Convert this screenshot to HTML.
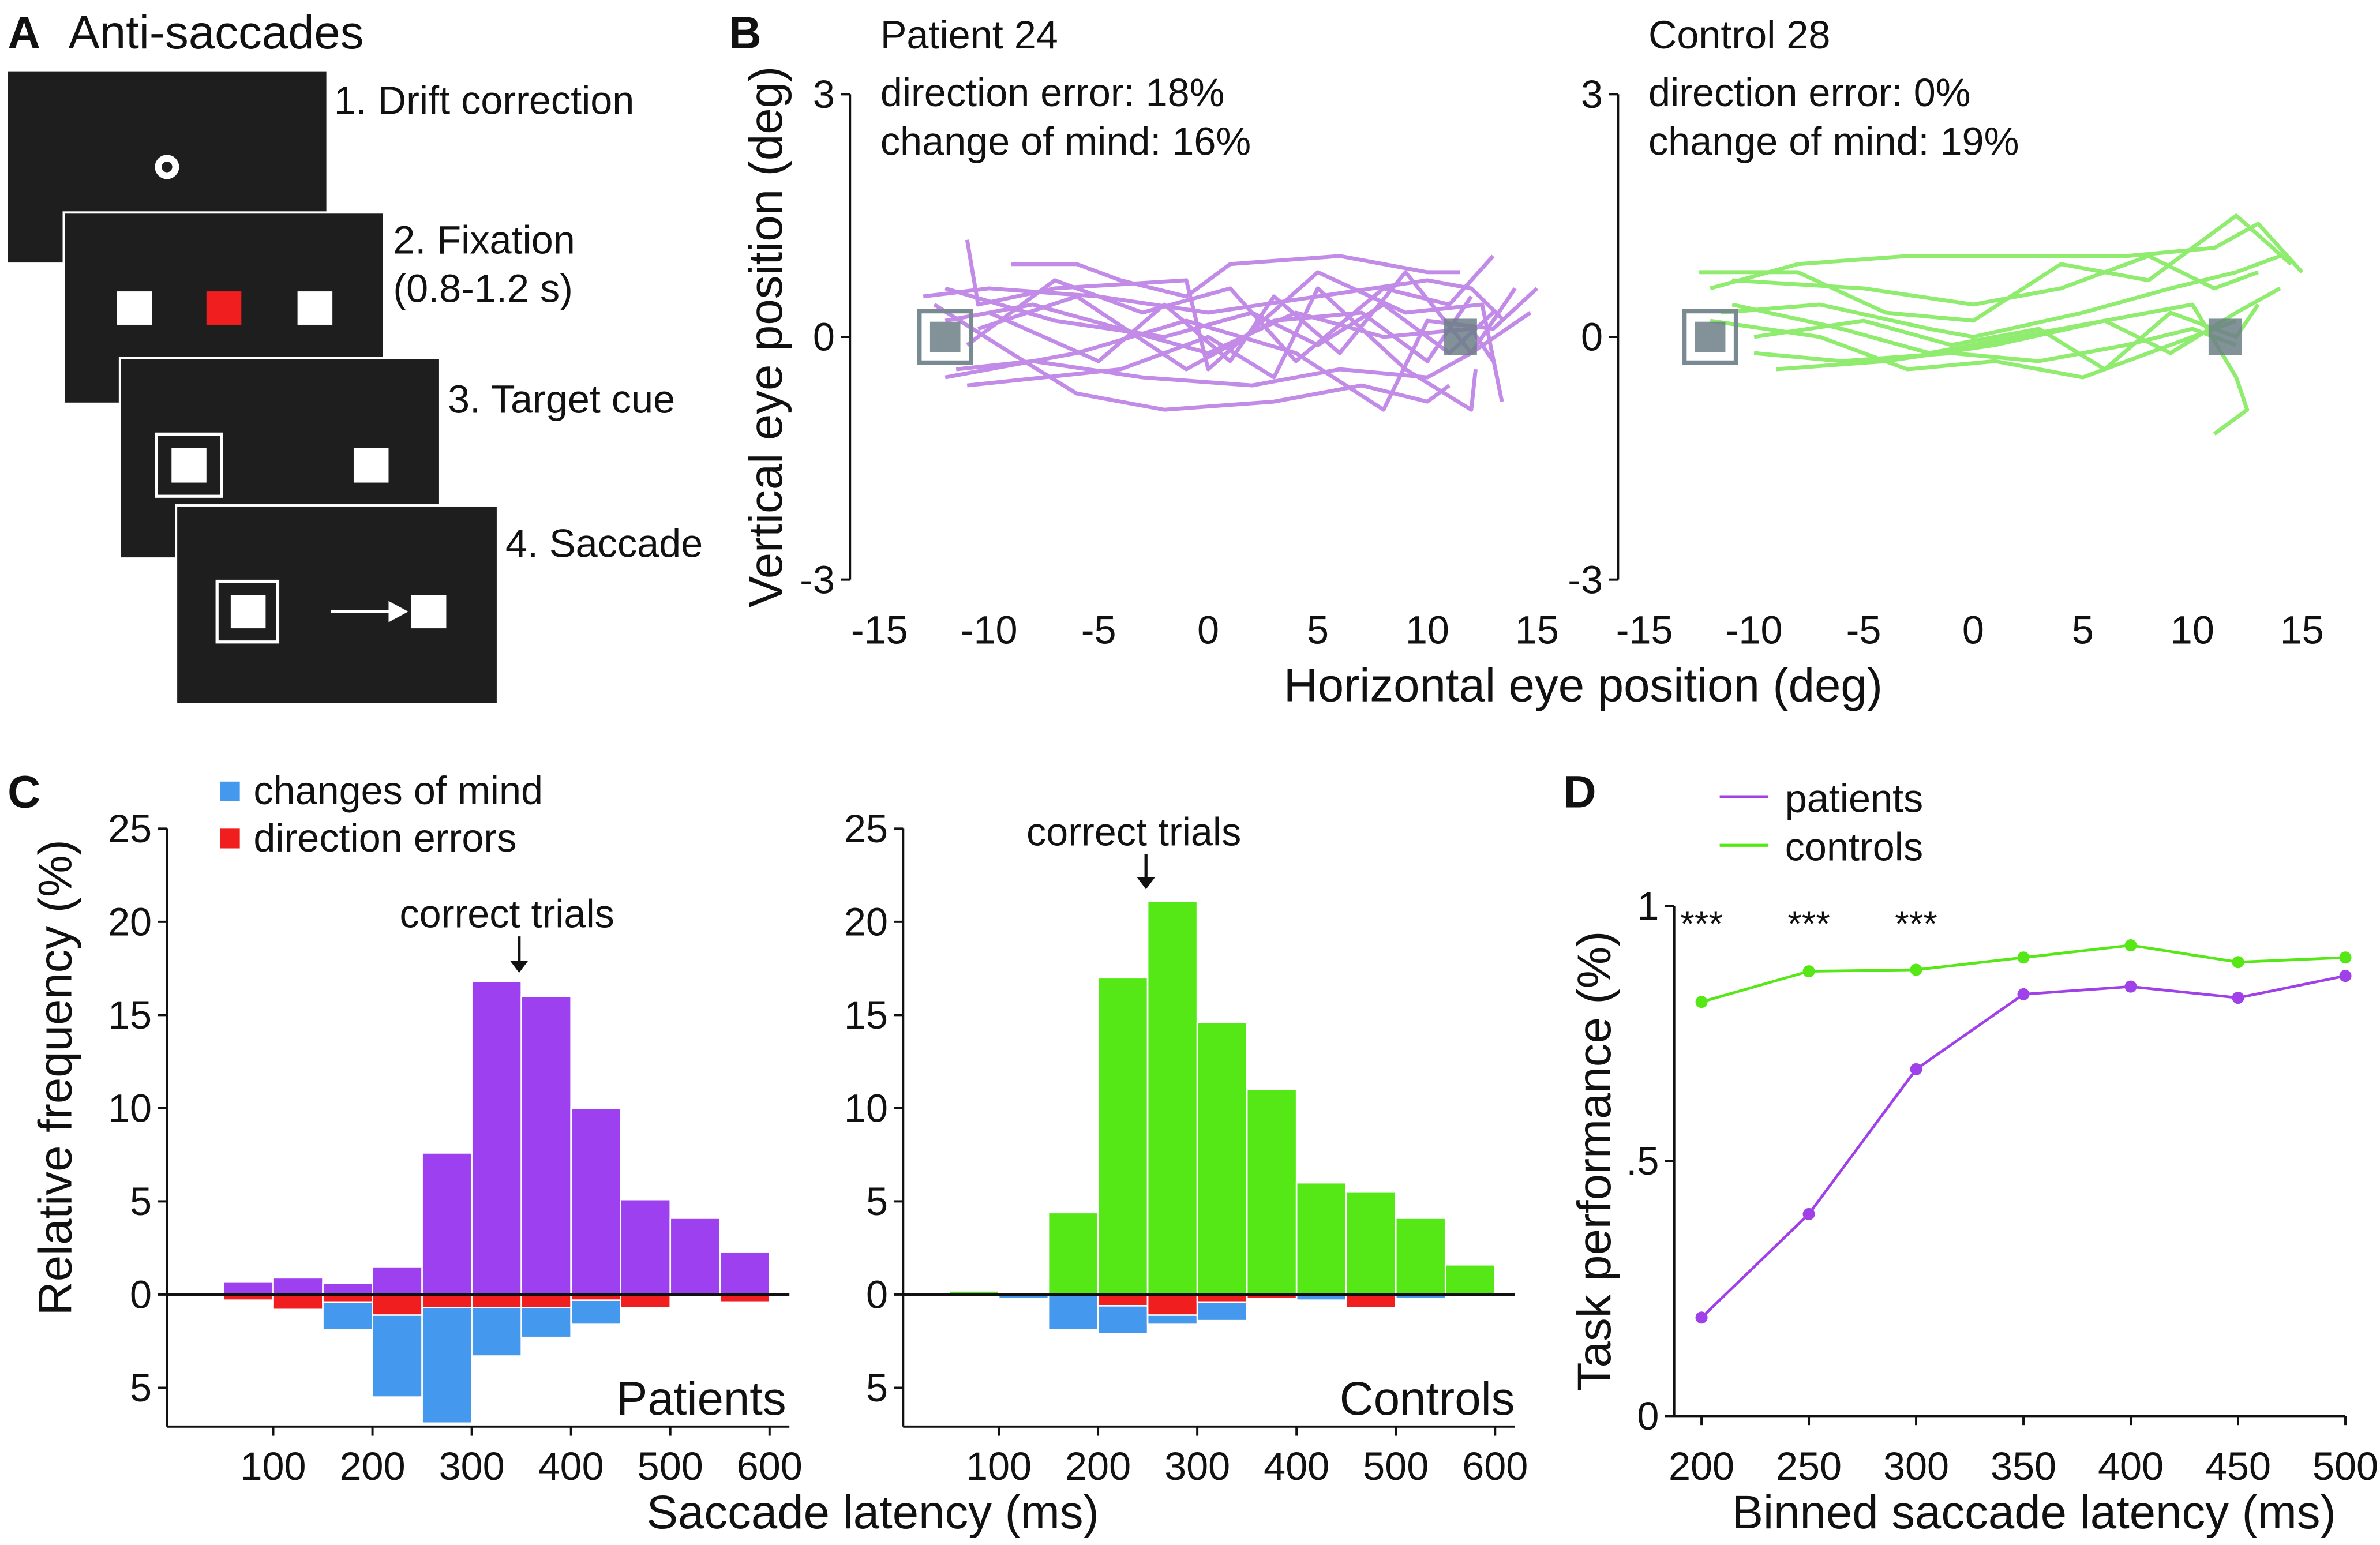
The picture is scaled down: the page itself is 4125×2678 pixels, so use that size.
<!DOCTYPE html>
<html><head><meta charset="utf-8"><style>
html,body{margin:0;padding:0;background:#fff;}
svg{display:block;}
text{font-family:"Liberation Sans",Arial,sans-serif;fill:#111;}
</style></head><body>
<svg id="fig" width="4125" height="2678" viewBox="0 0 1568 1018" preserveAspectRatio="none" xmlns="http://www.w3.org/2000/svg">
<rect width="1568" height="1018" fill="#fff"/>
<!-- Panel A -->
<g>
<text x="5" y="32" font-size="30" font-weight="bold">A</text>
<text x="45" y="32" font-size="31">Anti-saccades</text>
<rect x="5" y="47" width="210" height="126" fill="#1e1e1e"/>
<circle cx="110" cy="110" r="8" fill="#fff"/><circle cx="110" cy="110" r="3.5" fill="#1e1e1e"/>
<rect x="42" y="140" width="211" height="126" fill="#1e1e1e" stroke="#fff" stroke-width="1.5"/>
<rect x="77" y="192" width="23" height="22" fill="#fff"/><rect x="136" y="192" width="23" height="22" fill="#f01e1e"/><rect x="196" y="192" width="23" height="22" fill="#fff"/>
<rect x="79" y="236" width="211" height="132" fill="#1e1e1e" stroke="#fff" stroke-width="1.5"/>
<rect x="103" y="286" width="43" height="41" fill="none" stroke="#fff" stroke-width="2"/>
<rect x="113" y="295" width="23" height="23" fill="#fff"/><rect x="233" y="295" width="23" height="23" fill="#fff"/>
<rect x="116" y="333" width="212" height="131" fill="#1e1e1e" stroke="#fff" stroke-width="1.5"/>
<rect x="143" y="383" width="40" height="40" fill="none" stroke="#fff" stroke-width="2"/>
<rect x="152" y="392" width="23" height="22" fill="#fff"/><rect x="271" y="392" width="23" height="22" fill="#fff"/>
<line x1="218" y1="403" x2="258" y2="403" stroke="#fff" stroke-width="2"/><polygon points="256,396 269,403 256,410" fill="#fff"/>
<text x="220" y="75" font-size="26">1. Drift correction</text>
<text x="259" y="167" font-size="26">2. Fixation</text>
<text x="259" y="199" font-size="26">(0.8-1.2 s)</text>
<text x="295" y="272" font-size="26">3. Target cue</text>
<text x="333" y="367" font-size="26">4. Saccade</text>
</g>
<!-- Panel B -->
<g id="panelB">
<text x="480" y="32" font-size="30" font-weight="bold">B</text>
<text x="580" y="32" font-size="26">Patient 24</text>
<text x="580" y="70" font-size="26">direction error: 18%</text>
<text x="580" y="102" font-size="26">change of mind: 16%</text>
<text x="1086" y="32" font-size="26">Control 28</text>
<text x="1086" y="70" font-size="26">direction error: 0%</text>
<text x="1086" y="102" font-size="26">change of mind: 19%</text>
<text transform="translate(515,222) rotate(-90)" text-anchor="middle" font-size="31">Vertical eye position (deg)</text>
<text x="1043" y="462" text-anchor="middle" font-size="31">Horizontal eye position (deg)</text>
</g>
<!-- Panel C -->
<g id="panelC">
<text x="5" y="532" font-size="30" font-weight="bold">C</text>
<rect x="145" y="515" width="13" height="13" fill="#4499ee"/>
<text x="167" y="530" font-size="26">changes of mind</text>
<rect x="145" y="546" width="13" height="13" fill="#f01e1e"/>
<text x="167" y="561" font-size="26">direction errors</text>
<text transform="translate(47,710) rotate(-90)" text-anchor="middle" font-size="31">Relative frequency (%)</text>
<text x="575" y="1007" text-anchor="middle" font-size="31">Saccade latency (ms)</text>
<text x="518" y="932" text-anchor="end" font-size="31">Patients</text>
<text x="998" y="932" text-anchor="end" font-size="31">Controls</text>
</g>
<!-- Panel D -->
<g id="panelD">
<text x="1030" y="532" font-size="30" font-weight="bold">D</text>
<line x1="1133" y1="525" x2="1165" y2="525" stroke="#a040e8" stroke-width="2"/>
<text x="1176" y="535" font-size="26">patients</text>
<line x1="1133" y1="557" x2="1165" y2="557" stroke="#55e816" stroke-width="2"/>
<text x="1176" y="567" font-size="26">controls</text>
<text transform="translate(1061,765) rotate(-90)" text-anchor="middle" font-size="31">Task performance (%)</text>
<text x="1340" y="1007" text-anchor="middle" font-size="31">Binned saccade latency (ms)</text>
</g>
</svg>
<script>
const NS="http://www.w3.org/2000/svg";
const svg=document.getElementById('fig');
// ---- Panel C data ----
const binStarts=[50,100,150,200,250,300,350,400,450,500,550];
const patCorrect=[0.7,0.9,0.6,1.5,7.6,16.8,16.0,10.0,5.1,4.1,2.3];
const patChange=[0.2,0.8,1.9,5.5,6.9,3.3,2.3,1.6,0,0,0.2];
const patError=[0.3,0.8,0.4,1.1,0.7,0.7,0.7,0.3,0.7,0,0.4];
const conCorrect=[0.2,0,4.4,17.0,21.1,14.6,11.0,6.0,5.5,4.1,1.6];
const conChange=[0,0.2,1.9,2.1,1.6,1.4,0.2,0.3,0.2,0.2,0];
const conError=[0,0,0,0.6,1.1,0.4,0.2,0,0.7,0,0];
const histYTicks=[25,20,15,10,5,0,-5];
const histXTicks=[100,200,300,400,500,600];
// ---- Panel D data ----
const latBins=[200,250,300,350,400,450,500];
const perfPatients=[0.193,0.396,0.68,0.827,0.842,0.82,0.863];
const perfControls=[0.812,0.872,0.875,0.899,0.923,0.89,0.899];
const perfYTicks=[0,0.5,1];
const perfYLabels=["0",".5","1"];
const sigLabels=["***","***","***"];
const sigBins=[200,250,300];
// ---- Panel B traces (deg) ----
const bTicksX=[-15,-10,-5,0,5,10,15];
const bTicksY=[3,0,-3];
const patTraces=[
[[-13,0.5],[-10,0.6],[-5,0.5],[0,0.3],[5,0.5],[10,0.7],[12,0.6],[13.5,0.2]],
[[-12,0.2],[-8,0.4],[-4,0.1],[0,-0.2],[4,0.3],[8,0.0],[12,0.1],[13,-0.3]],
[[-11.5,-0.4],[-8,-0.3],[-3,-0.5],[2,-0.6],[6,-0.4],[10,-0.5],[12,-0.2],[14.7,0.3]],
[[-11,-0.1],[-7,0.7],[-3,0.3],[1,0.6],[4,-0.3],[8,0.6],[11,0.4],[13,1.0]],
[[-12.5,0.4],[-9,-0.2],[-6,-0.7],[-2,-0.9],[3,-0.8],[7,-0.6],[10,-0.8],[11,-0.6]],
[[-11,1.2],[-10.5,0.4],[-7,0.6],[-1,0.7],[0,-0.4],[5,0.8],[9,0.3],[12.5,0.4],[13.4,-0.8]],
[[-10,0.3],[-5,-0.3],[-2,0.4],[1,-0.3],[3,0.5],[6,-0.2],[9,0.8],[12,-0.2],[14,0.6]],
[[-12,-0.5],[-6,-0.2],[-1,0.2],[4,-0.2],[8,-0.9],[10,0.2],[13,0.1],[15,0.6]],
[[-9,0.9],[-6,0.9],[-4,0.7],[-1,0.5],[1,0.9],[6,1.0],[10,0.8],[11.5,0.8]],
[[-11,-0.6],[-4,-0.4],[0,0.0],[3,-0.5],[5,0.6],[9,-0.4],[12,-0.9],[12.2,-0.4]],
[[-12,0.6],[-7,0.2],[-2,0.0],[2,0.3],[5,-0.1],[8,0.4],[11,-0.2],[13,0.3]],
[[-10.5,0.1],[-6,0.5],[-1,-0.4],[3,0.2],[7,0.3],[10,-0.3],[12,0.5]]
];
const conTraces=[
[[-12,0.6],[-8,0.9],[-3,1.0],[2,1.0],[7,1.0],[11,1.1],[13,1.4],[15,0.8]],
[[-11.5,0.3],[-7,0.4],[-2,0.1],[0,0.0],[5,0.3],[9,0.6],[12,0.8],[14,1.0]],
[[-10,-0.2],[-6,-0.3],[-1,-0.2],[3,-0.3],[7,-0.1],[10,0.1],[12,-0.1]],
[[-11,0.7],[-5,0.6],[0,0.4],[4,0.6],[8,1.0],[11,0.6],[13,0.8]],
[[-12,0.2],[-7,0.0],[-3,-0.4],[1,-0.3],[5,-0.5],[9,-0.1],[12,0.2]],
[[-9,-0.4],[-4,-0.3],[1,-0.1],[6,0.2],[10,0.4],[12,-0.5],[12.5,-0.9],[11,-1.2]],
[[-12.5,0.8],[-8,0.8],[-4,0.3],[0,0.2],[4,0.9],[8,0.7],[12,1.5],[14.5,0.9]],
[[-10,0.0],[-5,0.2],[-1,-0.1],[3,0.1],[6,-0.4],[9,0.3],[12,0.0],[13,0.4]],
[[-11,0.4],[-6,0.1],[-2,-0.2],[2,0.0],[6,0.2],[9,-0.2],[12,0.3],[14,0.6]]
];
function el(tag,attrs,parent){const e=document.createElementNS(NS,tag);for(const k in attrs)e.setAttribute(k,attrs[k]);(parent||svg).appendChild(e);return e;}
function txt(x,y,s,size,anchor){const t=el('text',{x:x,y:y,'font-size':size,'text-anchor':anchor||'start'});t.textContent=s;return t;}

// ---- Panel B ----
function drawB(ax0,xZero,traces,color){
  const sx=v=>xZero+v*14.44, sy=v=>222-v*53.3;
  const g=el('g',{});
  
  
  const yax=el('line',{x1:ax0,y1:sy(3),x2:ax0,y2:sy(-3),stroke:'#111','stroke-width':1.5},g);
  
  
  bTicksY.forEach(v=>{el('line',{x1:ax0-6,y1:sy(v),x2:ax0,y2:sy(v),stroke:'#111','stroke-width':1.5},g);
    g.appendChild(txt(ax0-10,sy(v)+9,String(v),26,'end'));});
  bTicksX.forEach(v=>{g.appendChild(txt(sx(v),424,String(v),26,'middle'));});
  traces.forEach(tr=>{
    const p=el('polyline',{points:tr.map(q=>sx(q[0])+','+sy(q[1])).join(' '),fill:'none',stroke:color,'stroke-width':2.6,'stroke-linejoin':'round'},g);
    
    
  });
  el('rect',{x:sx(-12)-17,y:sy(0)-17,width:34,height:34,fill:'none',stroke:'#7a8a92','stroke-width':3},g);
  el('rect',{x:sx(-12)-10,y:sy(0)-10,width:20,height:20,fill:'#6d7f87',opacity:0.85},g);
  el('rect',{x:sx(11.5)-11,y:sy(0)-12,width:22,height:24,fill:'#6d7f87',opacity:0.85},g);
}
drawB(560,796,patTraces,'#c28be8');
drawB(1066,1300,conTraces,'#8fec6e');

// ---- Panel C ----
function drawHist(ax0,x100,correct,change,err,color){
  const sx=v=>x100+(v-100)*0.654, sy=v=>853-v*12.28;
  const g=el('g',{});
  
  
  binStarts.forEach((b,i)=>{
    const x=sx(b),w=sx(b+50)-sx(b);
    if(correct[i]>0){const r=el('rect',{x:x,y:sy(correct[i]),width:w,height:sy(0)-sy(correct[i]),fill:color,stroke:'#fff','stroke-width':1},g);
      
      }
    if(change[i]>0){const r=el('rect',{x:x,y:sy(0),width:w,height:change[i]*12.28,fill:'#4499ee',stroke:'#fff','stroke-width':1},g);
      
      }
    if(err[i]>0){const r=el('rect',{x:x,y:sy(0),width:w,height:err[i]*12.28,fill:'#f01e1e',stroke:'#fff','stroke-width':1},g);
      
      }
  });
  const ya=el('line',{x1:ax0,y1:sy(25),x2:ax0,y2:940,stroke:'#111','stroke-width':1.5},g);
  
  
  const z=el('line',{x1:ax0,y1:sy(0),x2:sx(620),y2:sy(0),stroke:'#111','stroke-width':2},g);
  
  
  el('line',{x1:ax0,y1:940,x2:sx(620),y2:940,stroke:'#111','stroke-width':1.5},g);
  histYTicks.forEach(v=>{el('line',{x1:ax0-6,y1:sy(v),x2:ax0,y2:sy(v),stroke:'#111','stroke-width':1.5},g);
    g.appendChild(txt(ax0-10,sy(v)+9,String(Math.abs(v)),26,'end'));});
  histXTicks.forEach(v=>{el('line',{x1:sx(v),y1:940,x2:sx(v),y2:946,stroke:'#111','stroke-width':1.5},g);
    g.appendChild(txt(sx(v),975,String(v),26,'middle'));});
}
drawHist(110,180,patCorrect,patChange,patError,'#9c40f0');
drawHist(595,658,conCorrect,conChange,conError,'#55e816');
function arrow(x,ytext,y1,y2){txt(x-8,ytext,'correct trials',26,'middle');
  el('line',{x1:x,y1:y1,x2:x,y2:y2-6,stroke:'#111','stroke-width':2});
  el('polygon',{points:(x-6)+','+(y2-8)+' '+(x+6)+','+(y2-8)+' '+x+','+y2,fill:'#111'});}
arrow(342,611,617,641);
arrow(755,557,563,586);

// ---- Panel D ----
(function(){
  const sx=v=>1121+(v-200)*1.414, sy=v=>933-v*336;
  const g=el('g',{});
  
  
  el('line',{x1:1103,y1:sy(1),x2:1103,y2:933,stroke:'#111','stroke-width':1.5},g);
  el('line',{x1:1103,y1:933,x2:sx(500),y2:933,stroke:'#111','stroke-width':1.5},g);
  perfYTicks.forEach((v,i)=>{el('line',{x1:1097,y1:sy(v),x2:1103,y2:sy(v),stroke:'#111','stroke-width':1.5},g);
    g.appendChild(txt(1093,sy(v)+9,perfYLabels[i],26,'end'));});
  latBins.forEach(v=>{el('line',{x1:sx(v),y1:933,x2:sx(v),y2:939,stroke:'#111','stroke-width':1.5},g);
    g.appendChild(txt(sx(v),975,String(v),26,'middle'));});
  [[perfPatients,'#a040e8','line-patients'],[perfControls,'#55e816','line-controls']].forEach(s=>{
    const l=el('polyline',{points:latBins.map((b,i)=>sx(b)+','+sy(s[0][i])).join(' '),fill:'none',stroke:s[1],'stroke-width':1.8},g);
    
    
    latBins.forEach((b,i)=>{const c=el('circle',{cx:sx(b),cy:sy(s[0][i]),r:4,fill:s[1]},g);
      
      });
  });
  sigBins.forEach((b,i)=>g.appendChild(txt(sx(b),617,sigLabels[i],24,'middle')));
})();
</script>
</body></html>
